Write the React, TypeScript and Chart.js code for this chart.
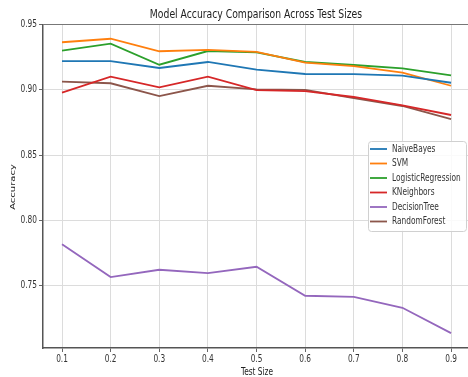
import React, { useEffect, useRef } from "react";
import { Chart, registerables } from "chart.js";

Chart.register(...registerables);

const testSizes = [0.1, 0.2, 0.3, 0.4, 0.5, 0.6, 0.7, 0.8, 0.9];
const naiveBayes = [0.922, 0.922, 0.9167, 0.9213, 0.9154, 0.9121, 0.912, 0.9108, 0.9054];
const svm = [0.9364, 0.9391, 0.9295, 0.9305, 0.929, 0.9208, 0.9182, 0.9131, 0.9031];
const logisticRegression = [0.93, 0.9353, 0.9192, 0.9297, 0.9287, 0.9213, 0.919, 0.9164, 0.9111];
const kNeighbors = [0.8978, 0.91, 0.9019, 0.91, 0.8998, 0.899, 0.8945, 0.8881, 0.8807];
const decisionTree = [0.7817, 0.7566, 0.7622, 0.7597, 0.7645, 0.7423, 0.7415, 0.7331, 0.7137];
const randomForest = [0.9062, 0.905, 0.8952, 0.9031, 0.9004, 0.9, 0.8937, 0.8876, 0.8776];

const xTicks = [0.1, 0.2, 0.3, 0.4, 0.5, 0.6, 0.7, 0.8, 0.9];
const yTicks = [0.75, 0.8, 0.85, 0.9, 0.95];
const xTickLabels = ["0.1", "0.2", "0.3", "0.4", "0.5", "0.6", "0.7", "0.8", "0.9"];
const yTickLabels = ["0.75", "0.80", "0.85", "0.90", "0.95"];

const seriesNames = ["NaiveBayes", "SVM", "LogisticRegression", "KNeighbors", "DecisionTree", "RandomForest"];
const seriesValues = [naiveBayes, svm, logisticRegression, kNeighbors, decisionTree, randomForest];
const colors = ["#1f77b4", "#ff7f0e", "#2ca02c", "#d62728", "#9467bd", "#8c564b"];

const chartTitle = "Model Accuracy Comparison Across Test Sizes";
const xTitle = "Test Size";
const yTitle = "Accuracy";

const FONT = "'DejaVu Sans', sans-serif";
const SQ = 0.74; // horizontal squeeze of the reference image text

function isTick(list: number[], v: number) {
  return list.some((t) => Math.abs(t - v) < 1e-6);
}

function sqText(ctx: any, text: string, x: number, y: number, size: number, align: string, color: string, rot = 0) {
  ctx.save();
  ctx.translate(x, y);
  ctx.scale(SQ, 1);
  if (rot) ctx.rotate(rot);
  ctx.font = `${size}px ${FONT}`;
  ctx.fillStyle = color;
  ctx.textAlign = align;
  ctx.textBaseline = "middle";
  ctx.fillText(text, 0, 0);
  ctx.restore();
}

const textPlugin = {
  id: "sqTexts",
  afterDraw(chart: any) {
    const ctx = chart.ctx;
    const area = chart.chartArea;
    const xs = chart.scales.x;
    const ys = chart.scales.y;
    // top spine
    ctx.save();
    ctx.strokeStyle = "#777";
    ctx.lineWidth = 1.2;
    ctx.beginPath();
    ctx.moveTo(area.left, area.top);
    ctx.lineTo(area.right, area.top);
    ctx.stroke();
    ctx.restore();

    sqText(ctx, chartTitle, 256, 14.5, 12.5, "center", "#222");
    xTicks.forEach((v, i) => {
      sqText(ctx, xTickLabels[i], xs.getPixelForValue(v), area.bottom + 11.5, 10, "center", "#333");
    });
    yTicks.forEach((v, i) => {
      sqText(ctx, yTickLabels[i], area.left - 6, ys.getPixelForValue(v), 10, "right", "#333");
    });
    sqText(ctx, xTitle, 257, 372, 10, "center", "#222");
    sqText(ctx, yTitle, 13, 187, 10, "center", "#222", -Math.PI / 2);

    // legend
    const x = 368, y = 141, w = 98, h = 90;
    ctx.save();
    ctx.fillStyle = "rgba(255,255,255,0.85)";
    ctx.strokeStyle = "#d0d0d0";
    ctx.lineWidth = 1;
    ctx.beginPath();
    ctx.roundRect(x + 0.5, y + 0.5, w, h, 3);
    ctx.fill();
    ctx.stroke();
    ctx.restore();
    chart.data.datasets.forEach((ds: any, i: number) => {
      const cy = y + 8 + i * 14.5;
      ctx.save();
      ctx.strokeStyle = ds.borderColor;
      ctx.lineWidth = 1.8;
      ctx.beginPath();
      ctx.moveTo(x + 2, cy);
      ctx.lineTo(x + 19, cy);
      ctx.stroke();
      ctx.restore();
      sqText(ctx, ds.label, x + 24, cy, 10, "left", "#333");
    });
  },
};

export default function App() {
  const ref = useRef<HTMLCanvasElement>(null);
  useEffect(() => {
    document.body.style.margin = "0";
    document.body.style.overflow = "hidden";
    document.documentElement.style.overflow = "hidden";
    const chart = new Chart(ref.current!, {
      type: "line",
      data: {
        datasets: seriesNames.map((name, i) => ({
          label: name,
          data: testSizes.map((t, j) => ({ x: t, y: seriesValues[i][j] })),
          borderColor: colors[i],
          backgroundColor: colors[i],
          borderWidth: 1.8,
          pointRadius: 0,
          tension: 0,
        })),
      },
      options: {
        animation: false,
        responsive: false,
        layout: { padding: { left: 0, right: 0, top: 24.5, bottom: 0 } },
        plugins: {
          legend: { display: false },
          tooltip: { enabled: false },
          title: { display: false },
        },
        scales: {
          x: {
            type: "linear",
            min: 0.0609,
            max: 0.941,
            afterBuildTicks: (s: any) => { s.ticks = xTicks.map((v) => ({ value: v })); },
            afterFit: (s: any) => { s.height = 29; },
            ticks: { display: false },
            grid: {
              color: (c: any) => (c.tick && isTick(xTicks, c.tick.value) ? "#dcdcdc" : "rgba(0,0,0,0)"),
              tickColor: (c: any) => (c.tick && isTick(xTicks, c.tick.value) ? "#666" : "rgba(0,0,0,0)"),
              lineWidth: 1,
              tickLength: 4,
            },
            border: { display: true, color: "#555", width: 1.5 },
          },
          y: {
            type: "linear",
            min: 0.7023,
            max: 0.95,
            afterBuildTicks: (s: any) => { s.ticks = yTicks.map((v) => ({ value: v })); },
            afterFit: (s: any) => { s.width = 43; },
            ticks: { display: false },
            grid: {
              color: (c: any) => (c.tick && isTick(yTicks, c.tick.value) ? "#dcdcdc" : "rgba(0,0,0,0)"),
              tickColor: (c: any) => (c.tick && isTick(yTicks, c.tick.value) ? "#666" : "rgba(0,0,0,0)"),
              lineWidth: 1,
              tickLength: 4,
            },
            border: { display: true, color: "#555", width: 1.5 },
          },
        },
      },
      plugins: [textPlugin],
    });
    return () => chart.destroy();
  }, []);
  return <canvas ref={ref} width={471} height={377} style={{ display: "block" }} />;
}
